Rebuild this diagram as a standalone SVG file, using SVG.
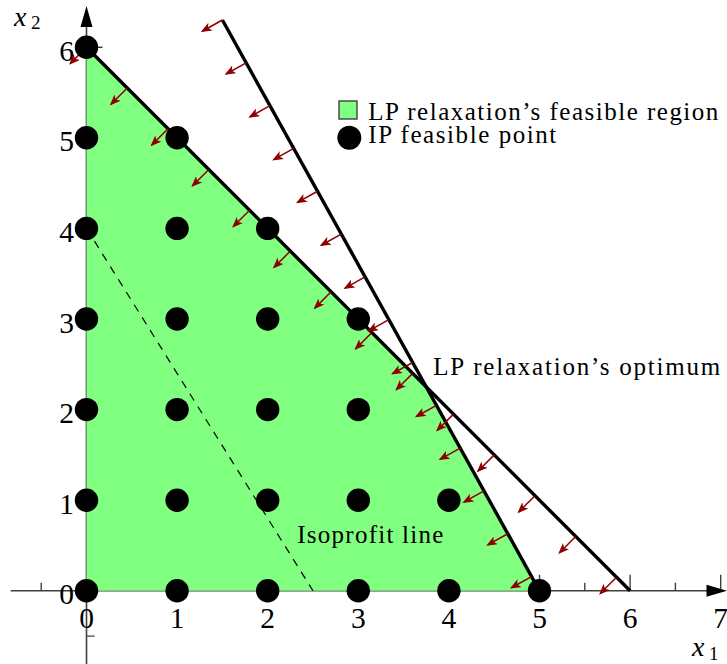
<svg xmlns="http://www.w3.org/2000/svg" width="727" height="664" viewBox="0 0 727 664">
<style>
.ax{stroke:#404040;stroke-width:1.6;fill:none}
.axh{fill:#000}
.tk{stroke:#404040;stroke-width:1.4}
.region{fill:#80ff80;stroke:none}
.con{stroke:#000;stroke-width:3.4;fill:none;stroke-linecap:butt}
.iso{stroke:#000;stroke-width:1.2;stroke-dasharray:8 7;fill:none}
.ar{stroke:#8c0000;stroke-width:1.5;fill:none;marker-end:url(#ah)}
.dot{fill:#000}
.lbl{font-family:"Liberation Serif","Times New Roman",serif;font-size:29.5px;fill:#000}
.txt{font-family:"Liberation Serif","Times New Roman",serif;font-size:25px;fill:#000}
.var{font-family:"Liberation Serif","Times New Roman",serif;font-style:italic;font-size:28px;fill:#000}
.sub{font-family:"Liberation Serif","Times New Roman",serif;font-size:19px;fill:#000}
</style>
<defs>
<marker id="ah" viewBox="0 0 10 8" refX="8.5" refY="4" markerWidth="11" markerHeight="8.8" markerUnits="userSpaceOnUse" orient="auto">
<path d="M0,0 L10,4 L0,8 L2.5,4 Z" fill="#8c0000"/>
</marker>
</defs>

<g id="axes">
<g class="tk">
<path d="M41.2,582.8 V590.8 M539.5,574.8 V590.8 M584.8,582.8 V590.8 M630.1,574.8 V590.8 M675.4,582.8 V590.8 M720.7,574.8 V590.8"/>
<path d="M86.5,636.1 H94.5 M86.5,47.2 H102.5"/>
</g>
<line class="ax" x1="10.7" y1="590.8" x2="712" y2="590.8"/>
<line class="ax" x1="86.5" y1="664" x2="86.5" y2="22"/>
<path class="axh" d="M727,590.8 L706.5,584.8 L706.5,596.8 Z"/>
<path class="axh" d="M86.5,6 L80.5,27 L92.5,27 Z"/>
<g class="lbl" text-anchor="middle">
<text x="86.5" y="628">0</text>
<text x="177.1" y="628">1</text>
<text x="267.7" y="628">2</text>
<text x="358.3" y="628">3</text>
<text x="448.9" y="628">4</text>
<text x="539.5" y="628">5</text>
<text x="630.1" y="628">6</text>
<text x="720.7" y="628">7</text>
</g>
<g class="lbl" text-anchor="end">
<text x="74" y="604.3">0</text>
<text x="74" y="513.7">1</text>
<text x="74" y="423.1">2</text>
<text x="74" y="332.5">3</text>
<text x="74" y="241.9">4</text>
<text x="74" y="151.3">5</text>
<text x="74" y="60.7">6</text>
</g>
<g id="x2label"><text class="var" x="14" y="26">x</text><text class="sub" x="31" y="29">2</text></g>
<g id="x1label"><text class="var" x="692" y="656">x</text><text class="sub" x="709" y="659.5">1</text></g>
</g>

<g id="lp-region">
<polygon class="region" points="86.5,590.8 86.5,47.2 426.25,386.95 539.5,590.8"/>
</g>

<g id="isoprofit">
<line class="iso" x1="86.5" y1="228.4" x2="313" y2="590.8"/>
<text class="txt" x="297.3" y="543.3" textLength="146" lengthAdjust="spacing">Isoprofit line</text>
</g>

<g id="connectors">
<line class="con" x1="86.5" y1="47.2" x2="630.1" y2="590.8"/>
<line class="con" x1="222.4" y1="20.02" x2="539.5" y2="590.8"/>
</g>

<g id="normals-a">
<path class="ar" d="M86.5,47.2 l-16.3,16.3"/>
<path class="ar" d="M127.27,87.97 l-16.3,16.3"/>
<path class="ar" d="M168.04,128.74 l-16.3,16.3"/>
<path class="ar" d="M208.81,169.51 l-16.3,16.3"/>
<path class="ar" d="M249.58,210.28 l-16.3,16.3"/>
<path class="ar" d="M290.35,251.05 l-16.3,16.3"/>
<path class="ar" d="M331.12,291.82 l-16.3,16.3"/>
<path class="ar" d="M371.89,332.59 l-16.3,16.3"/>
<path class="ar" d="M412.66,373.36 l-16.3,16.3"/>
<path class="ar" d="M453.43,414.13 l-16.3,16.3"/>
<path class="ar" d="M494.2,454.9 l-16.3,16.3"/>
<path class="ar" d="M534.97,495.67 l-16.3,16.3"/>
<path class="ar" d="M575.74,536.44 l-16.3,16.3"/>
<path class="ar" d="M616.51,577.21 l-16.3,16.3"/>
</g>
<g id="normals-b">
<path class="ar" d="M222.4,20.02 l-20.1,11.2"/>
<path class="ar" d="M246.18,62.83 l-20.1,11.2"/>
<path class="ar" d="M269.96,105.64 l-20.1,11.2"/>
<path class="ar" d="M293.74,148.45 l-20.1,11.2"/>
<path class="ar" d="M317.52,191.26 l-20.1,11.2"/>
<path class="ar" d="M341.3,234.07 l-20.1,11.2"/>
<path class="ar" d="M365.08,276.88 l-20.1,11.2"/>
<path class="ar" d="M388.86,319.69 l-20.1,11.2"/>
<path class="ar" d="M412.64,362.5 l-20.1,11.2"/>
<path class="ar" d="M436.42,405.31 l-20.1,11.2"/>
<path class="ar" d="M460.2,448.12 l-20.1,11.2"/>
<path class="ar" d="M483.98,490.93 l-20.1,11.2"/>
<path class="ar" d="M507.76,533.74 l-20.1,11.2"/>
<path class="ar" d="M531.54,576.55 l-20.1,11.2"/>
</g>

<g id="ip-points" class="dot">
<circle cx="86.5" cy="590.8" r="11.7"/><circle cx="86.5" cy="500.2" r="11.7"/><circle cx="86.5" cy="409.6" r="11.7"/><circle cx="86.5" cy="319" r="11.7"/><circle cx="86.5" cy="228.4" r="11.7"/><circle cx="86.5" cy="137.8" r="11.7"/><circle cx="86.5" cy="47.2" r="11.7"/>
<circle cx="177.1" cy="590.8" r="11.7"/><circle cx="177.1" cy="500.2" r="11.7"/><circle cx="177.1" cy="409.6" r="11.7"/><circle cx="177.1" cy="319" r="11.7"/><circle cx="177.1" cy="228.4" r="11.7"/><circle cx="177.1" cy="137.8" r="11.7"/>
<circle cx="267.7" cy="590.8" r="11.7"/><circle cx="267.7" cy="500.2" r="11.7"/><circle cx="267.7" cy="409.6" r="11.7"/><circle cx="267.7" cy="319" r="11.7"/><circle cx="267.7" cy="228.4" r="11.7"/>
<circle cx="358.3" cy="590.8" r="11.7"/><circle cx="358.3" cy="500.2" r="11.7"/><circle cx="358.3" cy="409.6" r="11.7"/><circle cx="358.3" cy="319" r="11.7"/>
<circle cx="448.9" cy="590.8" r="11.7"/><circle cx="448.9" cy="500.2" r="11.7"/>
<circle cx="539.5" cy="590.8" r="11.7"/>
</g>

<g id="optimum-label">
<text class="txt" x="433.3" y="375" textLength="287" lengthAdjust="spacing">LP relaxation’s optimum</text>
</g>

<g id="legend">
<rect x="339" y="101" width="18" height="18" fill="#80ff80" stroke="#333" stroke-width="1.3"/>
<text class="txt" x="368.3" y="120" textLength="350" lengthAdjust="spacing">LP relaxation’s feasible region</text>
<circle cx="349.3" cy="137.7" r="12" fill="#000"/>
<text class="txt" x="368.3" y="143.3" textLength="188" lengthAdjust="spacing">IP feasible point</text>
</g>
</svg>
